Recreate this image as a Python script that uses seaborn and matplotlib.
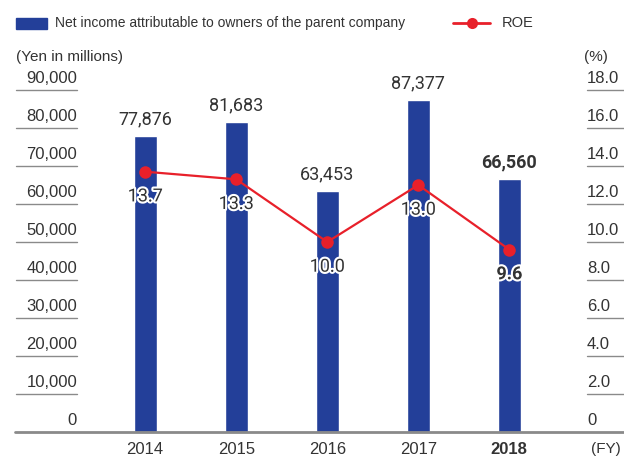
import matplotlib
matplotlib.use("Agg")
import matplotlib.pyplot as plt
import matplotlib.patheffects as pe
from matplotlib.transforms import blended_transform_factory
from matplotlib.lines import Line2D
from matplotlib.patches import Rectangle
import seaborn as sns
import pandas as pd

years = ["2014", "2015", "2016", "2017", "2018"]
net_income = [77876, 81683, 63453, 87377, 66560]
roe = [13.7, 13.3, 10.0, 13.0, 9.6]
left_ticks = [0, 10000, 20000, 30000, 40000, 50000, 60000, 70000, 80000, 90000]
right_ticks = [0, 2.0, 4.0, 6.0, 8.0, 10.0, 12.0, 14.0, 16.0, 18.0]

BLUE = "#233f99"
RED = "#e8202a"
TXT = "#333333"
GRID = "#8a8a8a"

sns.set_theme(style="white")
plt.rcParams["font.family"] = ["Liberation Sans", "DejaVu Sans"]
num_font = ["Roboto", "DejaVu Sans"]

df = pd.DataFrame({"year": years, "income": net_income, "roe": roe})

W, H = 624, 462
fig = plt.figure(figsize=(W / 100, H / 100), dpi=100)
ax = fig.add_axes([15 / W, 30 / H, 609 / W, 342 / H])

sns.barplot(data=df, x="year", y="income", color=BLUE, width=0.25,
            saturation=1, ax=ax, zorder=2)
ax.set_xlim(-1.43, 5.26)
ax.set_ylim(0, 90000)
ax.set_xticks([])
ax.set_yticks([])
ax.set_xlabel("")
ax.set_ylabel("")
for s in ax.spines.values():
    s.set_visible(False)
ax.axhline(0, color=GRID, lw=2, zorder=3, clip_on=False)

ax2 = ax.twinx()
ax2.set_ylim(0, 18)
ax2.set_yticks([])
for s in ax2.spines.values():
    s.set_visible(False)
sns.lineplot(data=df, x="year", y="roe", color=RED, lw=1.6, marker="o",
             markersize=9, markeredgewidth=0, ax=ax2, zorder=4)
ax2.set_xlabel("")
ax2.set_ylabel("")
ax2.set_xlim(-1.43, 5.26)

# left axis labels with short underlines
tl = blended_transform_factory(fig.transFigure, ax.transData)
for v in left_ticks:
    ax.text(77 / W, v + 1100, f"{v:,}", transform=tl, ha="right", va="bottom",
            fontsize=12, color=TXT, clip_on=False)
    if v > 0:
        ax.add_line(Line2D([16 / W, 77 / W], [v, v], transform=tl, color=GRID,
                           lw=1, clip_on=False))

tr = blended_transform_factory(fig.transFigure, ax2.transData)
for v in right_ticks:
    lab = "0" if v == 0 else f"{v:.1f}"
    ax2.text(587 / W, v + 0.22, lab, transform=tr, ha="left", va="bottom",
             fontsize=12, color=TXT, clip_on=False)
    if v > 0:
        ax2.add_line(Line2D([587 / W, 1.0], [v, v], transform=tr, color=GRID,
                            lw=1, clip_on=False))

# year labels
for i, y in enumerate(years):
    ax.text(i, -4600, y, ha="center", va="center", fontsize=12, color=TXT,
            fontweight="bold" if y == "2018" else "normal", clip_on=False)
ax.text(606 / W, -4600, "(FY)", transform=tl, ha="center", va="center",
        fontsize=11, color=TXT, clip_on=False)

# bar values
for i, v in enumerate(net_income):
    ax.text(i, v + 2000, f"{v:,}", ha="center", va="bottom", fontsize=13,
            family=num_font, color=TXT, zorder=5, clip_on=False,
            fontweight="bold" if i == len(years) - 1 else "normal")

# roe values
for i, v in enumerate(roe):
    ax2.text(i, v - 1.3, f"{v:.1f}", ha="center", va="center", fontsize=13,
             family=num_font, color=TXT, zorder=6,
             fontweight="bold" if i == len(years) - 1 else "normal",
             path_effects=[pe.withStroke(linewidth=3, foreground="white")])

fig.text(16 / W, 1 - 57 / H, "(Yen in millions)", ha="left", va="center",
         fontsize=11, color=TXT)
fig.text(596 / W, 1 - 57 / H, "(%)", ha="center", va="center",
         fontsize=11, color=TXT)

# legend
fig.add_artist(Rectangle((16 / W, 1 - 29 / H), 31 / W, 11 / H, color=BLUE,
                         transform=fig.transFigure))
fig.text(55 / W, 1 - 23 / H, "Net income attributable to owners of the parent company",
         ha="left", va="center", fontsize=10, color=TXT)
fig.add_artist(Line2D([453 / W, 490 / W], [1 - 23 / H, 1 - 23 / H], color=RED,
                      lw=2, transform=fig.transFigure))
fig.add_artist(Line2D([471.5 / W], [1 - 23 / H], color=RED, marker="o",
                      markersize=8, markeredgewidth=0, transform=fig.transFigure))
fig.text(502 / W, 1 - 23 / H, "ROE", ha="left", va="center", fontsize=10.5, color=TXT)

fig.savefig("out.png", dpi=100)
